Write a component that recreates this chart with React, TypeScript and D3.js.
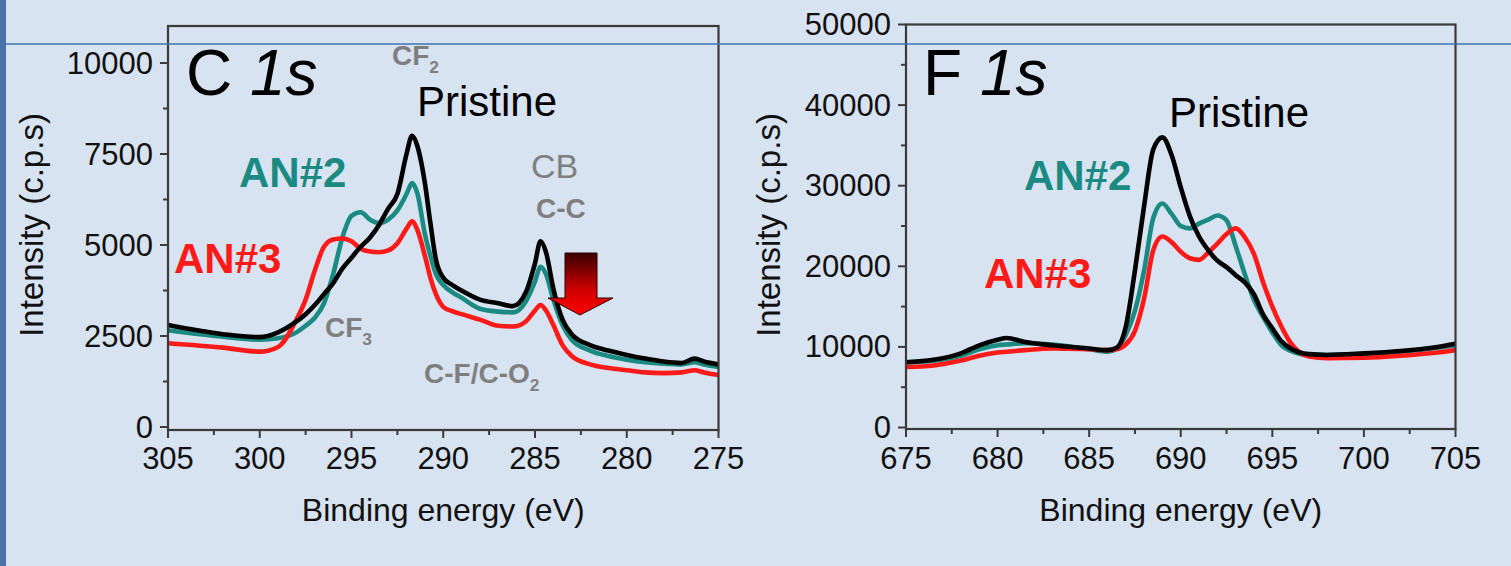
import * as d3 from 'd3';
import React, { useEffect, useRef } from "react";

// C 1s spectra (binding energy in eV, intensity in c.p.s)
const cEnergy = [305, 302, 300, 299, 298, 297.5, 297, 296.5, 296, 295.5, 295, 294.5, 294, 293.5, 293, 292.5, 292, 291.7, 291.4, 291, 290.7, 290.4, 290, 289.5, 289, 288, 287, 286.2, 285.5, 285, 284.7, 284.4, 284, 283.5, 283, 282, 281, 280, 279, 278, 277, 276.3, 275.8, 275];
const cPristine = [2800, 2550, 2470, 2600, 2900, 3100, 3350, 3650, 3950, 4350, 4650, 4950, 5200, 5550, 6000, 6400, 7500, 8000, 7700, 6700, 5600, 4600, 4100, 3900, 3750, 3500, 3400, 3320, 3700, 4500, 5100, 4800, 3800, 2950, 2550, 2250, 2100, 1980, 1880, 1800, 1760, 1880, 1800, 1720];
const cAn2 = [2660, 2480, 2400, 2440, 2600, 2780, 3000, 3400, 4200, 5200, 5800, 5900, 5700, 5600, 5700, 5950, 6400, 6700, 6400, 5300, 4700, 4200, 3900, 3700, 3550, 3250, 3170, 3150, 3450, 4000, 4400, 4200, 3500, 2800, 2400, 2100, 1950, 1850, 1780, 1740, 1720, 1780, 1720, 1650];
const cAn3 = [2300, 2180, 2070, 2200, 2950, 3500, 4300, 4950, 5150, 5180, 5100, 4900, 4820, 4800, 4850, 5050, 5450, 5650, 5400, 4700, 4100, 3650, 3300, 3180, 3100, 2950, 2780, 2760, 2900, 3200, 3350, 3200, 2800, 2250, 1950, 1720, 1620, 1560, 1500, 1480, 1500, 1560, 1500, 1430];

// F 1s spectra
const fEnergy = [675, 676.5, 678, 679, 680, 680.5, 681.5, 683, 685, 686, 686.5, 687, 687.5, 688, 688.5, 689, 689.5, 690, 690.5, 691, 691.5, 692, 692.5, 693, 693.5, 694, 694.5, 695, 695.5, 696, 697, 698, 700, 702, 704, 705];
const fPristine = [8100, 8400, 9200, 10200, 10900, 11100, 10600, 10200, 9800, 9600, 9900, 12500, 19500, 27500, 34500, 36000, 33800, 29800, 26200, 23700, 22000, 20700, 19900, 18900, 18000, 16500, 14000, 12300, 10700, 9800, 9100, 9000, 9200, 9500, 10000, 10400];
const fAn2 = [8100, 8300, 8900, 9700, 10200, 10300, 10450, 10300, 9700, 9400, 9800, 11500, 14500, 19500, 26000, 27800, 26500, 25000, 24700, 25300, 25800, 26300, 25700, 22500, 19000, 15800, 13700, 11800, 10200, 9500, 9000, 9000, 9100, 9400, 9900, 10200];
const fAn3 = [7500, 7700, 8300, 8900, 9300, 9400, 9600, 9800, 9700, 9600, 9700, 10300, 12000, 16000, 22000, 23700, 23000, 21800, 21000, 20800, 21700, 22800, 24000, 24700, 23600, 21500, 18000, 15000, 12500, 10500, 8800, 8600, 8650, 8900, 9300, 9600];

const cTicksX = [305, 300, 295, 290, 285, 280, 275];
const cTicksY = [0, 2500, 5000, 7500, 10000];
const fTicksX = [675, 680, 685, 690, 695, 700, 705];
const fTicksY = [0, 10000, 20000, 30000, 40000, 50000];

const BLACK = '#000000';
const TEAL = '#1a8a82';
const RED = '#ff1a1a';
const GRAY = '#7f7f7f';
const FONT = '"Liberation Sans", Arial, Helvetica, sans-serif';

interface PanelSpec {
    x0: number; x1: number; y0: number; y1: number;
    xDomain: [number, number]; yDomain: [number, number];
    xTicks: number[]; yTicks: number[];
    energy: number[];
    series: { values: number[]; color: string }[];
}

function drawPanel(svg: d3.Selection<SVGSVGElement, unknown, null, undefined>, p: PanelSpec) {
    const x = d3.scaleLinear().domain(p.xDomain).range([p.x0, p.x1]);
    const y = d3.scaleLinear().domain(p.yDomain).range([p.y1, p.y0]);
    const g = svg.append('g');

    const line = d3.line<[number, number]>()
        .x(d => x(d[0]))
        .y(d => y(d[1]))
        .curve(d3.curveMonotoneX);

    p.series.forEach(s => {
        g.append('path')
            .datum(p.energy.map((e, i) => [e, s.values[i]] as [number, number]))
            .attr('d', line)
            .attr('fill', 'none')
            .attr('stroke', s.color)
            .attr('stroke-width', 4.6)
            .attr('stroke-linejoin', 'round');
    });

    // frame
    g.append('rect')
        .attr('x', p.x0).attr('y', p.y0)
        .attr('width', p.x1 - p.x0).attr('height', p.y1 - p.y0)
        .attr('fill', 'none').attr('stroke', '#3a3a3a').attr('stroke-width', 2.2);

    // y ticks (major + minor halfway)
    const yStep = p.yTicks[1] - p.yTicks[0];
    p.yTicks.forEach((t, i) => {
        g.append('line').attr('x1', p.x0 - 8).attr('x2', p.x0)
            .attr('y1', y(t)).attr('y2', y(t)).attr('stroke', '#3a3a3a').attr('stroke-width', 2);
        g.append('text').attr('x', p.x0 - 15).attr('y', y(t)).attr('dy', '0.34em')
            .attr('text-anchor', 'end').attr('font-size', 31).attr('font-family', FONT)
            .attr('fill', '#111').text(t);
        if (i < p.yTicks.length - 1) {
            const m = t + yStep / 2;
            g.append('line').attr('x1', p.x0 - 5).attr('x2', p.x0)
                .attr('y1', y(m)).attr('y2', y(m)).attr('stroke', '#3a3a3a').attr('stroke-width', 2);
        }
    });

    // x ticks
    const xStep = p.xTicks[1] - p.xTicks[0];
    p.xTicks.forEach((t, i) => {
        g.append('line').attr('x1', x(t)).attr('x2', x(t))
            .attr('y1', p.y1).attr('y2', p.y1 + 8).attr('stroke', '#3a3a3a').attr('stroke-width', 2);
        g.append('text').attr('x', x(t)).attr('y', 469)
            .attr('text-anchor', 'middle').attr('font-size', 31).attr('font-family', FONT)
            .attr('fill', '#111').text(t);
        if (i < p.xTicks.length - 1) {
            const m = t + xStep / 2;
            g.append('line').attr('x1', x(m)).attr('x2', x(m))
                .attr('y1', p.y1).attr('y2', p.y1 + 5).attr('stroke', '#3a3a3a').attr('stroke-width', 2);
        }
    });

    g.append('text')
        .attr('x', (p.x0 + p.x1) / 2).attr('y', 521)
        .attr('text-anchor', 'middle').attr('font-size', 32).attr('font-family', FONT)
        .attr('fill', '#111').text('Binding energy (eV)');
}

const App: React.FC = () => {
    const ref = useRef<SVGSVGElement>(null);

    useEffect(() => {
        if (!ref.current) return;
        const svg = d3.select(ref.current);
        svg.selectAll('*').remove();

        const defs = svg.append('defs');
        const grad = defs.append('linearGradient').attr('id', 'arrowGrad')
            .attr('x1', 0).attr('y1', 0).attr('x2', 0).attr('y2', 1);
        grad.append('stop').attr('offset', '0%').attr('stop-color', '#3a0000');
        grad.append('stop').attr('offset', '60%').attr('stop-color', '#d00000');
        grad.append('stop').attr('offset', '100%').attr('stop-color', '#ff0000');

        svg.append('rect').attr('width', 1511).attr('height', 566).attr('fill', '#d7e3f0');
        svg.append('rect').attr('width', 6).attr('height', 566).attr('fill', '#4a72a8');

        drawPanel(svg, {
            x0: 168, x1: 718.5, y0: 26, y1: 430,
            xDomain: [305, 275], yDomain: [-82, 11016],
            xTicks: cTicksX, yTicks: cTicksY,
            energy: cEnergy,
            series: [
                { values: cAn2, color: TEAL },
                { values: cAn3, color: RED },
                { values: cPristine, color: BLACK },
            ],
        });

        drawPanel(svg, {
            x0: 906, x1: 1455.5, y0: 24.5, y1: 429,
            xDomain: [675, 705], yDomain: [-186, 50000],
            xTicks: fTicksX, yTicks: fTicksY,
            energy: fEnergy,
            series: [
                { values: fAn2, color: TEAL },
                { values: fAn3, color: RED },
                { values: fPristine, color: BLACK },
            ],
        });

        const txt = (xp: number, yp: number, s: string, size: number, color: string, weight = 'normal') =>
            svg.append('text').attr('x', xp).attr('y', yp).attr('font-size', size)
                .attr('font-family', FONT).attr('font-weight', weight).attr('fill', color).text(s);

        // y axis titles
        [[43, 225], [780, 225]].forEach(([xp, yp]) => {
            svg.append('text').attr('transform', `translate(${xp},${yp}) rotate(-90)`)
                .attr('text-anchor', 'middle').attr('font-size', 33).attr('font-family', FONT)
                .attr('fill', '#111').text('Intensity (c.p.s)');
        });

        // panel titles
        const t1 = txt(186, 95, 'C ', 64, '#000');
        t1.append('tspan').attr('font-style', 'italic').text('1s');
        const t2 = txt(923, 95, 'F ', 64, '#000');
        t2.append('tspan').attr('font-style', 'italic').text('1s');

        // C 1s annotations
        const sub = (xp: number, yp: number, s: string, sb: string, size: number) => {
            const t = txt(xp, yp, s, size, GRAY, 'bold');
            t.append('tspan').attr('font-size', size * 0.62).attr('dy', size * 0.3).text(sb);
        };
        sub(392, 65, 'CF', '2', 28);
        txt(417, 116, 'Pristine', 42, '#000');
        txt(531, 178, 'CB', 34, GRAY);
        txt(536, 218, 'C-C', 28, GRAY, 'bold');
        txt(239, 187, 'AN#2', 42, TEAL, 'bold');
        txt(174, 273, 'AN#3', 42, RED, 'bold');
        sub(325, 337, 'CF', '3', 28);
        sub(424, 383, 'C-F/C-O', '2', 28);

        // arrow
        svg.append('path')
            .attr('d', 'M565,253 L597,253 L597,298 L613,298 L580,315 L548,298 L565,298 Z')
            .attr('fill', 'url(#arrowGrad)').attr('stroke', '#2a0000').attr('stroke-width', 1);

        // F 1s annotations
        txt(1169, 127, 'Pristine', 42, '#000');
        txt(1024, 190, 'AN#2', 42, TEAL, 'bold');
        txt(984, 288, 'AN#3', 42, RED, 'bold');

        // slide guide line
        svg.append('line').attr('x1', 6).attr('x2', 1511).attr('y1', 44).attr('y2', 44)
            .attr('stroke', '#3f72b5').attr('stroke-width', 1.3);
    }, []);

    return (
        <svg ref={ref} width={1511} height={566}
            style={{ position: 'absolute', left: 0, top: 0, display: 'block' }} />
    );
};

export default App;
